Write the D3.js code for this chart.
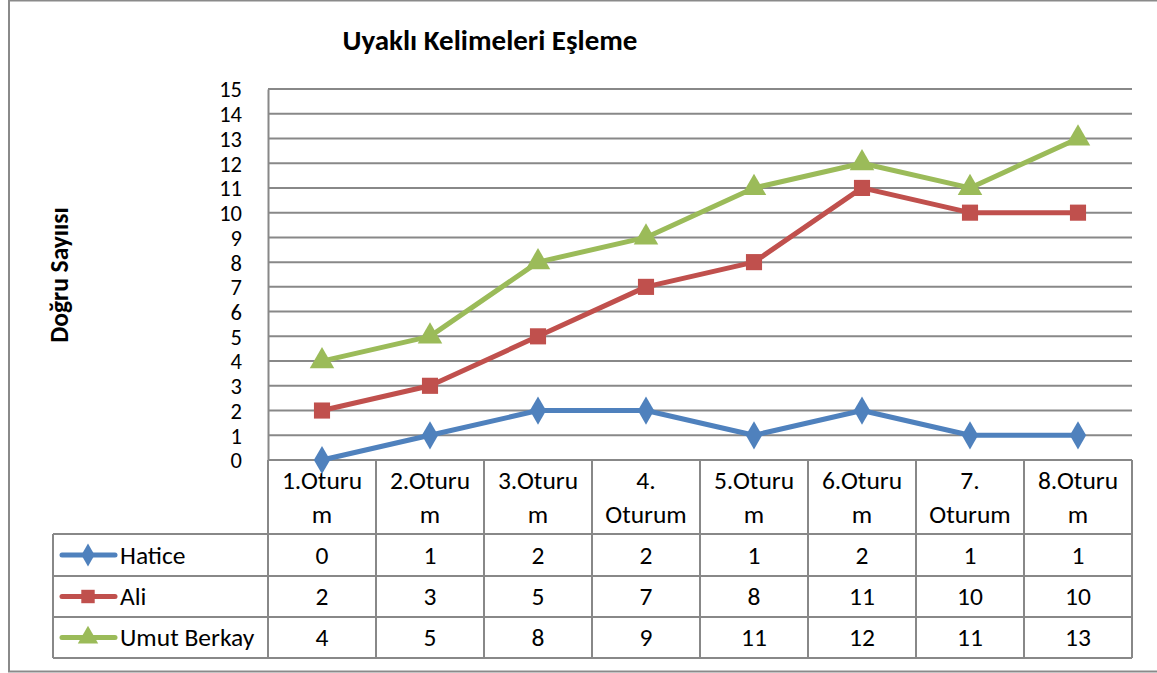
<!DOCTYPE html>
<html>
<head>
<meta charset="utf-8">
<script src="https://cdn.jsdelivr.net/npm/d3@7"></script>
<style>
  html, body { margin: 0; padding: 0; background: #fff; }
  svg { display: block; font-family: Carlito, Lato, "Open Sans", sans-serif; }
</style>
</head>
<body>
<svg id="chart" width="1157" height="673"></svg>
<script>
// Session labels (two lines each, as wrapped in the table header)
const categories = [
  ["1.Oturu", "m"], ["2.Oturu", "m"], ["3.Oturu", "m"], ["4.", "Oturum"],
  ["5.Oturu", "m"], ["6.Oturu", "m"], ["7.", "Oturum"], ["8.Oturu", "m"]
];
const seriesNames = ["Hatice", "Ali", "Umut Berkay"];
const hatice = [0, 1, 2, 2, 1, 2, 1, 1];
const ali = [2, 3, 5, 7, 8, 11, 10, 10];
const umutBerkay = [4, 5, 8, 9, 11, 12, 11, 13];
const yTicks = [0, 1, 2, 3, 4, 5, 6, 7, 8, 9, 10, 11, 12, 13, 14, 15];
const colors = ["#4F81BD", "#C0504D", "#9BBB59"];
const markers = [d3.symbolDiamond, d3.symbolSquare, d3.symbolTriangle];

const series = seriesNames.map((name, i) => ({
  name, values: [hatice, ali, umutBerkay][i], color: colors[i], marker: markers[i]
}));

const svg = d3.select("#chart");
const gridColor = "#888888";
const textSize = 25.5;

// Outer chart frame
svg.append("rect")
  .attr("x", 9).attr("y", 0.5).attr("width", 1160).attr("height", 671)
  .attr("fill", "none").attr("stroke", "#8a8a8a").attr("stroke-width", 2);

const plot = { left: 268, right: 1132, top: 89, bottom: 460 };

const x = d3.scaleBand()
  .domain(d3.range(categories.length))
  .range([plot.left, plot.right])
  .padding(0);
const y = d3.scaleLinear().domain([0, 15]).range([plot.bottom, plot.top]);

// Title
svg.append("text")
  .attr("x", 490).attr("y", 50)
  .attr("text-anchor", "middle")
  .attr("font-weight", "bold").attr("font-size", 29)
  .attr("fill", "#000")
  .text("Uyaklı Kelimeleri Eşleme");

// Y axis title
svg.append("text")
  .attr("transform", "translate(68,275) rotate(-90)")
  .attr("text-anchor", "middle")
  .attr("font-weight", "bold").attr("font-size", 25.5)
  .text("Doğru Sayıısı");

// Horizontal gridlines
svg.append("g")
  .selectAll("line")
  .data(yTicks)
  .join("line")
  .attr("x1", plot.left).attr("x2", plot.right)
  .attr("y1", d => y(d)).attr("y2", d => y(d))
  .attr("stroke", gridColor).attr("stroke-width", 2);

// Y axis with labels
const yAxis = d3.axisLeft(y).tickValues(yTicks).tickSize(0).tickPadding(26);
const yg = svg.append("g")
  .attr("transform", `translate(${plot.left},0)`)
  .call(yAxis);
yg.select(".domain").attr("stroke", gridColor).attr("stroke-width", 2);
yg.selectAll("text")
  .attr("font-family", "Carlito, Lato, sans-serif")
  .attr("font-size", 22.5).attr("fill", "#000")
  .attr("dy", "0.35em");

// Data table
const table = {
  legendLeft: 53,
  headerBottom: 534,
  rowBottoms: [576, 617, 658]
};
const tg = svg.append("g");
const rowTops = [table.headerBottom, table.rowBottoms[0], table.rowBottoms[1]];

// Horizontal table rules
const hRules = [
  { y: plot.bottom, x1: plot.left, x2: plot.right },
  { y: table.headerBottom, x1: table.legendLeft, x2: plot.right },
  ...table.rowBottoms.map(b => ({ y: b, x1: table.legendLeft, x2: plot.right }))
];
tg.selectAll("line.h").data(hRules).join("line")
  .attr("class", "h")
  .attr("x1", d => d.x1).attr("x2", d => d.x2)
  .attr("y1", d => d.y).attr("y2", d => d.y)
  .attr("stroke", gridColor).attr("stroke-width", 2);

// Vertical table rules
const vX = d3.range(categories.length + 1).map(i => i < categories.length ? x(i) : plot.right);
tg.selectAll("line.v").data(vX).join("line")
  .attr("class", "v")
  .attr("x1", d => d).attr("x2", d => d)
  .attr("y1", plot.bottom).attr("y2", table.rowBottoms[2])
  .attr("stroke", gridColor).attr("stroke-width", 2);
tg.append("line")
  .attr("x1", table.legendLeft).attr("x2", table.legendLeft)
  .attr("y1", table.headerBottom).attr("y2", table.rowBottoms[2])
  .attr("stroke", gridColor).attr("stroke-width", 2);

// Header labels
const header = tg.selectAll("g.hdr").data(categories).join("g").attr("class", "hdr");
header.each(function (lines, i) {
  const g = d3.select(this);
  lines.forEach((t, k) => {
    g.append("text")
      .attr("x", x(i) + x.bandwidth() / 2)
      .attr("y", 489 + k * 34)
      .attr("text-anchor", "middle")
      .attr("font-size", textSize)
      .text(t);
  });
});

// Value rows with legend keys
series.forEach((s, r) => {
  const cy = (rowTops[r] + table.rowBottoms[r]) / 2;
  const row = tg.append("g");
  row.selectAll("text.val").data(s.values).join("text")
    .attr("class", "val")
    .attr("x", (d, i) => x(i) + x.bandwidth() / 2)
    .attr("y", cy + 8.5)
    .attr("text-anchor", "middle")
    .attr("font-size", textSize)
    .text(d => d);
  row.append("line")
    .attr("x1", 62).attr("x2", 115)
    .attr("y1", cy).attr("y2", cy)
    .attr("stroke", s.color).attr("stroke-width", 5)
    .attr("stroke-linecap", "round");
  row.append("path")
    .attr("d", d3.symbol().type(s.marker).size(s.marker === d3.symbolDiamond ? 150 : 180)())
    .attr("transform", `translate(88,${cy})`)
    .attr("fill", s.color);
  row.append("text")
    .attr("x", 120).attr("y", cy + 8.5)
    .attr("font-size", textSize)
    .text(s.name);
});

// Lines and markers
const line = d3.line()
  .x((d, i) => x(i) + x.bandwidth() / 2)
  .y(d => y(d));

series.forEach(s => {
  svg.append("path")
    .datum(s.values)
    .attr("d", line)
    .attr("fill", "none")
    .attr("stroke", s.color)
    .attr("stroke-width", 5)
    .attr("stroke-linejoin", "round")
    .attr("stroke-linecap", "round");
  svg.append("g").selectAll("path").data(s.values).join("path")
    .attr("d", d3.symbol().type(s.marker).size(s.marker === d3.symbolDiamond ? 230 : 260)())
    .attr("transform", (d, i) => `translate(${x(i) + x.bandwidth() / 2},${y(d)})`)
    .attr("fill", s.color);
});
</script>
</body>
</html>
